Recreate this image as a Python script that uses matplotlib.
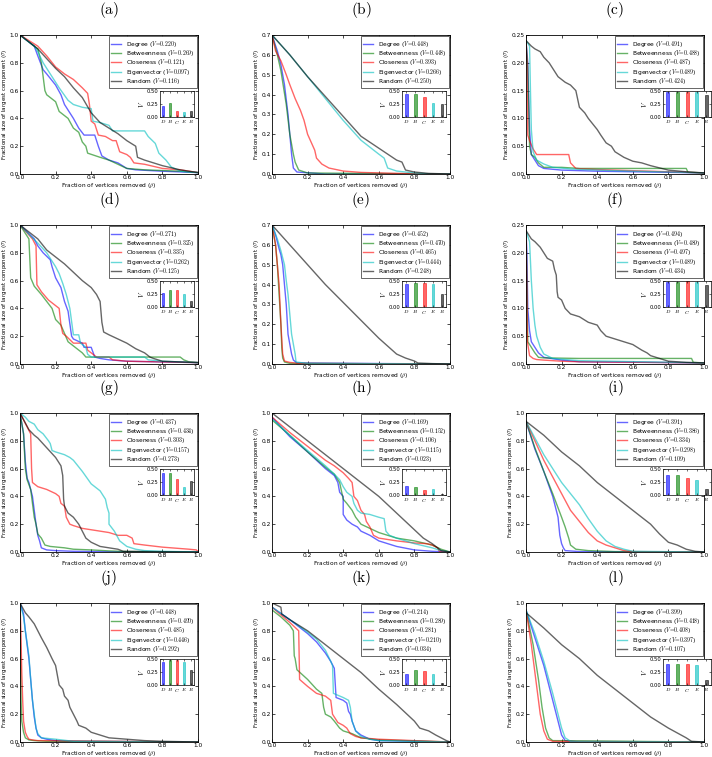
import matplotlib
matplotlib.use('Agg')
import matplotlib.pyplot as plt

plt.rcParams['mathtext.fontset'] = 'cm'

names = ['Degree', 'Betweenness', 'Closeness', 'Eigenvector', 'Random']
short = ['D', 'B', 'C', 'E', 'R']
colors = ['b', 'g', 'r', 'c', 'k']

# (a)
a_deg = [(0, 1), (0.08, 0.92), (0.1, 0.85), (0.13, 0.75), (0.15, 0.72), (0.2, 0.64), (0.23, 0.57), (0.25, 0.5), (0.3, 0.4), (0.33, 0.33), (0.36, 0.28), (0.42, 0.28), (0.43, 0.24), (0.44, 0.2), (0.46, 0.13), (0.5, 0.1), (0.55, 0.08), (0.6, 0.04), (0.65, 0.03), (0.8, 0.02), (1, 0.01)]
a_btw = [(0, 1), (0.1, 0.9), (0.12, 0.8), (0.13, 0.7), (0.14, 0.6), (0.15, 0.57), (0.2, 0.52), (0.22, 0.45), (0.27, 0.4), (0.3, 0.33), (0.33, 0.3), (0.35, 0.23), (0.37, 0.2), (0.38, 0.15), (0.45, 0.12), (0.5, 0.1), (0.55, 0.07), (0.6, 0.04), (0.7, 0.03), (0.8, 0.025), (0.9, 0.02), (1, 0.01)]
a_clo = [(0, 1), (0.1, 0.92), (0.15, 0.85), (0.2, 0.77), (0.25, 0.72), (0.3, 0.68), (0.35, 0.62), (0.38, 0.58), (0.39, 0.5), (0.4, 0.38), (0.42, 0.36), (0.44, 0.28), (0.48, 0.27), (0.52, 0.24), (0.54, 0.24), (0.56, 0.16), (0.6, 0.14), (0.62, 0.12), (0.64, 0.08), (0.7, 0.07), (0.8, 0.04), (0.9, 0.03), (1, 0.01)]
a_eig = [(0, 1), (0.08, 0.92), (0.1, 0.88), (0.13, 0.8), (0.18, 0.7), (0.22, 0.62), (0.27, 0.53), (0.3, 0.5), (0.35, 0.48), (0.4, 0.47), (0.41, 0.38), (0.45, 0.37), (0.5, 0.35), (0.52, 0.31), (0.7, 0.31), (0.72, 0.27), (0.76, 0.22), (0.78, 0.15), (0.82, 0.1), (0.85, 0.05), (0.9, 0.02), (1, 0.01)]
a_rnd = [(0, 1), (0.1, 0.9), (0.15, 0.83), (0.2, 0.76), (0.25, 0.7), (0.3, 0.62), (0.35, 0.55), (0.4, 0.44), (0.45, 0.37), (0.5, 0.33), (0.55, 0.29), (0.6, 0.24), (0.65, 0.2), (0.66, 0.12), (0.7, 0.1), (0.8, 0.06), (0.9, 0.03), (1, 0.01)]
v_a = [0.220, 0.269, 0.121, 0.097, 0.116]

# (b)
b_deg = [(0, 0.7), (0.03, 0.62), (0.05, 0.55), (0.07, 0.45), (0.09, 0.3), (0.1, 0.2), (0.11, 0.1), (0.12, 0.03), (0.14, 0.01), (0.3, 0.0), (1, 0)]
b_btw = [(0, 0.7), (0.03, 0.6), (0.05, 0.52), (0.08, 0.35), (0.1, 0.2), (0.12, 0.1), (0.13, 0.06), (0.15, 0.02), (0.2, 0.005), (1, 0)]
b_clo = [(0, 0.7), (0.02, 0.62), (0.05, 0.57), (0.08, 0.5), (0.1, 0.45), (0.13, 0.38), (0.16, 0.32), (0.18, 0.27), (0.2, 0.2), (0.24, 0.12), (0.25, 0.08), (0.28, 0.05), (0.32, 0.03), (0.4, 0.015), (0.5, 0.008), (0.7, 0.003), (1, 0)]
b_eig = [(0, 0.7), (0.1, 0.6), (0.2, 0.49), (0.3, 0.38), (0.4, 0.27), (0.5, 0.17), (0.6, 0.1), (0.63, 0.08), (0.65, 0.03), (0.7, 0.015), (0.8, 0.005), (0.9, 0), (1, 0)]
b_rnd = [(0, 0.7), (0.1, 0.6), (0.2, 0.49), (0.3, 0.39), (0.4, 0.29), (0.5, 0.19), (0.6, 0.13), (0.7, 0.07), (0.73, 0.06), (0.75, 0.02), (0.8, 0.01), (0.88, 0.003), (1, 0)]
v_b = [0.448, 0.448, 0.393, 0.266, 0.250]

# (c)
c_deg = [(0, 0.24), (0.01, 0.2), (0.02, 0.08), (0.03, 0.035), (0.05, 0.025), (0.07, 0.015), (0.1, 0.01), (0.2, 0.007), (0.4, 0.005), (0.6, 0.004), (1, 0.002)]
c_btw = [(0, 0.24), (0.01, 0.19), (0.02, 0.05), (0.03, 0.035), (0.05, 0.03), (0.07, 0.02), (0.1, 0.012), (0.2, 0.012), (0.3, 0.01), (0.5, 0.01), (0.9, 0.01), (0.91, 0.003), (1, 0.002)]
c_clo = [(0, 0.24), (0.005, 0.2), (0.01, 0.07), (0.02, 0.06), (0.04, 0.045), (0.05, 0.04), (0.06, 0.035), (0.24, 0.035), (0.25, 0.02), (0.28, 0.01), (0.4, 0.008), (0.6, 0.006), (0.8, 0.004), (1, 0.002)]
c_eig = [(0, 0.24), (0.02, 0.23), (0.025, 0.15), (0.03, 0.08), (0.04, 0.04), (0.06, 0.025), (0.1, 0.018), (0.15, 0.012), (0.25, 0.009), (0.5, 0.006), (1, 0.002)]
c_rnd = [(0, 0.24), (0.03, 0.23), (0.05, 0.225), (0.08, 0.22), (0.1, 0.21), (0.13, 0.2), (0.15, 0.19), (0.18, 0.175), (0.2, 0.17), (0.22, 0.165), (0.25, 0.16), (0.28, 0.15), (0.29, 0.135), (0.3, 0.12), (0.33, 0.11), (0.35, 0.1), (0.4, 0.08), (0.42, 0.07), (0.45, 0.056), (0.48, 0.05), (0.5, 0.04), (0.55, 0.03), (0.6, 0.023), (0.65, 0.02), (0.7, 0.015), (0.8, 0.007), (0.9, 0.004), (1, 0.002)]
v_c = [0.491, 0.488, 0.487, 0.489, 0.424]

# (d)
d_deg = [(0, 1), (0.08, 0.9), (0.1, 0.85), (0.13, 0.8), (0.17, 0.75), (0.18, 0.7), (0.2, 0.62), (0.23, 0.55), (0.25, 0.45), (0.27, 0.38), (0.29, 0.2), (0.3, 0.18), (0.35, 0.15), (0.36, 0.12), (0.4, 0.12), (0.42, 0.05), (0.45, 0.04), (0.5, 0.03), (0.6, 0.02), (0.8, 0.015), (1, 0.01)]
d_btw = [(0, 1), (0.05, 0.9), (0.06, 0.62), (0.08, 0.56), (0.12, 0.5), (0.15, 0.45), (0.18, 0.4), (0.2, 0.32), (0.23, 0.28), (0.25, 0.22), (0.27, 0.16), (0.3, 0.13), (0.35, 0.08), (0.37, 0.05), (0.6, 0.05), (0.9, 0.05), (0.92, 0.03), (0.95, 0.015), (1, 0.01)]
d_clo = [(0, 1), (0.07, 0.9), (0.09, 0.85), (0.095, 0.57), (0.12, 0.52), (0.16, 0.46), (0.2, 0.42), (0.22, 0.4), (0.23, 0.28), (0.24, 0.22), (0.26, 0.2), (0.3, 0.15), (0.37, 0.15), (0.38, 0.1), (0.4, 0.08), (0.43, 0.05), (0.5, 0.05), (0.52, 0.03), (0.6, 0.02), (0.8, 0.015), (1, 0.01)]
d_eig = [(0, 1), (0.06, 0.92), (0.1, 0.87), (0.15, 0.8), (0.2, 0.7), (0.22, 0.65), (0.24, 0.58), (0.26, 0.5), (0.28, 0.4), (0.3, 0.21), (0.33, 0.21), (0.34, 0.15), (0.37, 0.12), (0.38, 0.07), (0.4, 0.05), (0.45, 0.05), (0.7, 0.05), (0.72, 0.03), (0.8, 0.02), (1, 0.01)]
d_rnd = [(0, 1), (0.1, 0.9), (0.15, 0.82), (0.2, 0.77), (0.25, 0.72), (0.3, 0.66), (0.35, 0.6), (0.4, 0.55), (0.43, 0.5), (0.45, 0.45), (0.46, 0.3), (0.47, 0.23), (0.5, 0.21), (0.55, 0.18), (0.6, 0.15), (0.65, 0.11), (0.7, 0.08), (0.73, 0.05), (0.75, 0.04), (0.8, 0.02), (1, 0.01)]
v_d = [0.271, 0.325, 0.335, 0.262, 0.125]

# (e)
e_deg = [(0, 0.7), (0.02, 0.65), (0.04, 0.58), (0.05, 0.55), (0.06, 0.5), (0.07, 0.4), (0.08, 0.3), (0.09, 0.15), (0.1, 0.1), (0.11, 0.05), (0.12, 0.02), (0.14, 0.005), (1, 0)]
e_btw = [(0, 0.7), (0.02, 0.6), (0.03, 0.5), (0.04, 0.35), (0.05, 0.2), (0.055, 0.08), (0.06, 0.03), (0.07, 0.01), (0.1, 0.003), (1, 0)]
e_clo = [(0, 0.7), (0.02, 0.6), (0.03, 0.5), (0.04, 0.4), (0.05, 0.2), (0.06, 0.05), (0.07, 0.015), (0.1, 0.008), (0.15, 0.003), (1, 0)]
e_eig = [(0, 0.7), (0.03, 0.63), (0.05, 0.57), (0.07, 0.5), (0.08, 0.42), (0.09, 0.35), (0.1, 0.25), (0.11, 0.15), (0.12, 0.1), (0.13, 0.05), (0.135, 0.01), (0.2, 0.003), (1, 0)]
e_rnd = [(0, 0.7), (0.1, 0.6), (0.2, 0.5), (0.3, 0.4), (0.4, 0.31), (0.5, 0.22), (0.6, 0.13), (0.7, 0.05), (0.75, 0.03), (0.8, 0.015), (0.82, 0.005), (0.9, 0.002), (1, 0)]
v_e = [0.452, 0.470, 0.465, 0.444, 0.248]

# (f)
f_deg = [(0, 0.24), (0.005, 0.2), (0.01, 0.1), (0.02, 0.06), (0.03, 0.04), (0.05, 0.03), (0.07, 0.02), (0.1, 0.012), (0.2, 0.007), (0.3, 0.004), (1, 0.002)]
f_btw = [(0, 0.24), (0.005, 0.15), (0.01, 0.04), (0.03, 0.03), (0.05, 0.02), (0.07, 0.012), (0.1, 0.011), (0.3, 0.01), (0.6, 0.01), (0.93, 0.01), (0.94, 0.003), (1, 0.002)]
f_clo = [(0, 0.24), (0.004, 0.15), (0.008, 0.04), (0.02, 0.015), (0.04, 0.01), (0.06, 0.008), (0.1, 0.007), (0.2, 0.005), (0.3, 0.004), (1, 0.002)]
f_eig = [(0, 0.24), (0.02, 0.22), (0.03, 0.15), (0.04, 0.1), (0.05, 0.07), (0.06, 0.05), (0.08, 0.03), (0.1, 0.018), (0.15, 0.01), (0.3, 0.006), (1, 0.002)]
f_rnd = [(0, 0.24), (0.03, 0.225), (0.05, 0.22), (0.08, 0.21), (0.1, 0.2), (0.12, 0.19), (0.15, 0.185), (0.16, 0.17), (0.17, 0.16), (0.175, 0.13), (0.18, 0.12), (0.2, 0.115), (0.22, 0.1), (0.25, 0.09), (0.3, 0.085), (0.35, 0.075), (0.4, 0.07), (0.42, 0.06), (0.45, 0.05), (0.5, 0.045), (0.55, 0.04), (0.6, 0.035), (0.65, 0.025), (0.68, 0.02), (0.7, 0.015), (0.8, 0.005), (0.9, 0.003), (1, 0.002)]
v_f = [0.494, 0.489, 0.497, 0.489, 0.434]

# (g)
g_deg = [(0, 1), (0.02, 0.85), (0.03, 0.65), (0.04, 0.53), (0.05, 0.5), (0.06, 0.45), (0.07, 0.4), (0.08, 0.3), (0.09, 0.2), (0.1, 0.12), (0.11, 0.08), (0.12, 0.03), (0.15, 0.015), (0.2, 0.01), (0.3, 0.005), (0.5, 0.002), (1, 0)]
g_btw = [(0, 1), (0.02, 0.85), (0.03, 0.6), (0.04, 0.52), (0.06, 0.45), (0.08, 0.25), (0.09, 0.2), (0.1, 0.13), (0.12, 0.1), (0.14, 0.05), (0.17, 0.04), (0.25, 0.03), (0.3, 0.02), (0.4, 0.015), (0.5, 0.008), (0.6, 0.003), (1, 0)]
g_clo = [(0, 1), (0.04, 0.9), (0.06, 0.85), (0.065, 0.6), (0.07, 0.5), (0.1, 0.47), (0.15, 0.45), (0.2, 0.42), (0.22, 0.4), (0.23, 0.35), (0.25, 0.33), (0.26, 0.25), (0.28, 0.2), (0.3, 0.19), (0.35, 0.17), (0.4, 0.16), (0.45, 0.15), (0.5, 0.14), (0.55, 0.12), (0.6, 0.12), (0.63, 0.1), (0.64, 0.06), (0.7, 0.05), (0.8, 0.035), (0.9, 0.025), (0.95, 0.02), (0.99, 0.015), (1, 0.005)]
g_eig = [(0, 1), (0.03, 0.97), (0.05, 0.94), (0.08, 0.92), (0.1, 0.88), (0.13, 0.85), (0.16, 0.8), (0.17, 0.78), (0.18, 0.73), (0.2, 0.72), (0.25, 0.7), (0.28, 0.68), (0.3, 0.66), (0.35, 0.58), (0.4, 0.49), (0.45, 0.44), (0.48, 0.38), (0.49, 0.32), (0.5, 0.28), (0.5, 0.2), (0.53, 0.15), (0.56, 0.08), (0.6, 0.04), (0.65, 0.02), (0.7, 0.01), (0.8, 0.005), (1, 0)]
g_rnd = [(0, 1), (0.05, 0.88), (0.08, 0.84), (0.1, 0.82), (0.15, 0.75), (0.2, 0.68), (0.23, 0.62), (0.24, 0.55), (0.245, 0.38), (0.25, 0.33), (0.27, 0.28), (0.3, 0.25), (0.33, 0.2), (0.35, 0.15), (0.37, 0.1), (0.4, 0.07), (0.45, 0.04), (0.5, 0.03), (0.55, 0.02), (0.58, 0.005), (1, 0)]
v_g = [0.437, 0.434, 0.303, 0.157, 0.273]

# (h)
h_deg = [(0, 0.97), (0.1, 0.83), (0.2, 0.72), (0.3, 0.6), (0.35, 0.55), (0.37, 0.5), (0.38, 0.43), (0.4, 0.4), (0.4, 0.27), (0.42, 0.23), (0.45, 0.2), (0.48, 0.18), (0.5, 0.15), (0.55, 0.12), (0.6, 0.08), (0.7, 0.04), (0.8, 0.015), (0.9, 0.005), (1, 0)]
h_btw = [(0, 0.95), (0.1, 0.84), (0.2, 0.72), (0.3, 0.61), (0.35, 0.56), (0.38, 0.5), (0.4, 0.38), (0.42, 0.35), (0.45, 0.3), (0.47, 0.25), (0.5, 0.2), (0.55, 0.17), (0.6, 0.14), (0.65, 0.12), (0.7, 0.1), (0.8, 0.08), (0.9, 0.05), (0.95, 0.02), (1, 0)]
h_clo = [(0, 0.97), (0.1, 0.86), (0.2, 0.76), (0.3, 0.66), (0.35, 0.62), (0.4, 0.57), (0.43, 0.53), (0.45, 0.5), (0.46, 0.4), (0.48, 0.37), (0.5, 0.3), (0.52, 0.27), (0.53, 0.22), (0.55, 0.18), (0.57, 0.12), (0.6, 0.1), (0.7, 0.08), (0.8, 0.065), (0.87, 0.06), (0.9, 0.05), (0.93, 0.03), (0.94, 0.005), (1, 0)]
h_eig = [(0, 0.96), (0.1, 0.84), (0.2, 0.73), (0.3, 0.62), (0.35, 0.56), (0.38, 0.52), (0.4, 0.47), (0.42, 0.43), (0.45, 0.4), (0.46, 0.35), (0.48, 0.3), (0.5, 0.28), (0.55, 0.27), (0.6, 0.25), (0.63, 0.24), (0.64, 0.15), (0.66, 0.12), (0.7, 0.1), (0.8, 0.06), (0.9, 0.03), (0.95, 0.01), (1, 0)]
h_rnd = [(0, 1), (0.1, 0.9), (0.2, 0.8), (0.3, 0.7), (0.4, 0.6), (0.45, 0.55), (0.5, 0.5), (0.55, 0.45), (0.6, 0.4), (0.65, 0.34), (0.7, 0.28), (0.75, 0.22), (0.8, 0.16), (0.85, 0.1), (0.9, 0.06), (0.93, 0.03), (0.95, 0.01), (1, 0)]
v_h = [0.169, 0.152, 0.106, 0.115, 0.023]

# (i)
i_deg = [(0, 0.94), (0.05, 0.74), (0.1, 0.58), (0.15, 0.4), (0.18, 0.25), (0.19, 0.12), (0.2, 0.06), (0.21, 0.03), (0.22, 0.01), (0.3, 0.003), (1, 0)]
i_btw = [(0, 0.94), (0.05, 0.75), (0.1, 0.58), (0.15, 0.42), (0.2, 0.25), (0.22, 0.18), (0.24, 0.1), (0.25, 0.05), (0.28, 0.02), (0.35, 0.01), (0.5, 0.003), (1, 0)]
i_clo = [(0, 0.94), (0.05, 0.8), (0.1, 0.66), (0.15, 0.54), (0.2, 0.42), (0.25, 0.3), (0.3, 0.22), (0.35, 0.14), (0.4, 0.08), (0.45, 0.05), (0.5, 0.03), (0.55, 0.01), (0.6, 0.003), (1, 0)]
i_eig = [(0, 0.94), (0.05, 0.82), (0.1, 0.7), (0.15, 0.6), (0.2, 0.5), (0.25, 0.42), (0.3, 0.34), (0.35, 0.24), (0.4, 0.15), (0.45, 0.08), (0.5, 0.04), (0.55, 0.02), (0.6, 0.005), (1, 0)]
i_rnd = [(0, 0.94), (0.1, 0.84), (0.2, 0.72), (0.3, 0.62), (0.4, 0.5), (0.5, 0.4), (0.6, 0.3), (0.7, 0.2), (0.75, 0.13), (0.8, 0.07), (0.85, 0.05), (0.9, 0.02), (0.95, 0.005), (1, 0)]
v_i = [0.391, 0.386, 0.334, 0.298, 0.109]

# (j)
j_deg = [(0, 1), (0.02, 0.92), (0.03, 0.8), (0.05, 0.6), (0.06, 0.45), (0.07, 0.3), (0.08, 0.18), (0.09, 0.1), (0.1, 0.05), (0.12, 0.03), (0.15, 0.02), (0.2, 0.01), (0.3, 0.005), (1, 0)]
j_btw = [(0, 1), (0.003, 0.6), (0.006, 0.3), (0.01, 0.15), (0.02, 0.07), (0.03, 0.03), (0.05, 0.015), (0.08, 0.01), (0.15, 0.005), (1, 0)]
j_clo = [(0, 1), (0.005, 0.8), (0.01, 0.5), (0.015, 0.3), (0.02, 0.15), (0.03, 0.07), (0.04, 0.04), (0.05, 0.02), (0.07, 0.015), (0.1, 0.01), (1, 0)]
j_eig = [(0, 1), (0.02, 0.9), (0.03, 0.8), (0.05, 0.62), (0.06, 0.45), (0.07, 0.3), (0.08, 0.2), (0.09, 0.1), (0.1, 0.06), (0.12, 0.03), (0.2, 0.02), (0.3, 0.005), (1, 0)]
j_rnd = [(0, 1), (0.03, 0.93), (0.05, 0.9), (0.08, 0.85), (0.1, 0.8), (0.12, 0.75), (0.15, 0.68), (0.18, 0.6), (0.2, 0.55), (0.21, 0.48), (0.22, 0.41), (0.24, 0.38), (0.25, 0.33), (0.27, 0.3), (0.28, 0.25), (0.3, 0.2), (0.32, 0.15), (0.33, 0.12), (0.37, 0.1), (0.4, 0.07), (0.45, 0.05), (0.5, 0.03), (0.6, 0.02), (0.7, 0.01), (0.8, 0.005), (1, 0)]
v_j = [0.448, 0.490, 0.485, 0.446, 0.292]

# (k)
k_deg = [(0, 0.97), (0.1, 0.88), (0.2, 0.78), (0.25, 0.72), (0.3, 0.64), (0.33, 0.58), (0.35, 0.53), (0.36, 0.32), (0.4, 0.3), (0.42, 0.28), (0.43, 0.22), (0.44, 0.2), (0.45, 0.15), (0.47, 0.08), (0.5, 0.05), (0.55, 0.02), (0.6, 0.01), (0.8, 0.005), (1, 0)]
k_btw = [(0, 0.95), (0.05, 0.9), (0.1, 0.84), (0.12, 0.8), (0.125, 0.62), (0.13, 0.6), (0.14, 0.52), (0.2, 0.45), (0.25, 0.38), (0.28, 0.35), (0.29, 0.25), (0.3, 0.2), (0.33, 0.18), (0.35, 0.15), (0.38, 0.1), (0.4, 0.08), (0.45, 0.06), (0.5, 0.03), (0.6, 0.015), (0.8, 0.008), (1, 0)]
k_clo = [(0, 0.97), (0.1, 0.86), (0.15, 0.8), (0.155, 0.45), (0.2, 0.4), (0.25, 0.35), (0.3, 0.33), (0.33, 0.3), (0.34, 0.2), (0.37, 0.14), (0.4, 0.12), (0.42, 0.1), (0.44, 0.06), (0.47, 0.04), (0.5, 0.03), (0.6, 0.02), (0.8, 0.01), (1, 0)]
k_eig = [(0, 0.97), (0.1, 0.88), (0.2, 0.79), (0.25, 0.74), (0.3, 0.66), (0.33, 0.58), (0.34, 0.55), (0.345, 0.35), (0.4, 0.32), (0.43, 0.3), (0.44, 0.25), (0.45, 0.15), (0.47, 0.08), (0.5, 0.04), (0.55, 0.02), (0.6, 0.01), (1, 0)]
k_rnd = [(0, 1), (0.05, 0.97), (0.055, 0.92), (0.1, 0.88), (0.2, 0.8), (0.3, 0.7), (0.4, 0.6), (0.5, 0.5), (0.6, 0.38), (0.7, 0.27), (0.8, 0.15), (0.83, 0.1), (0.88, 0.08), (0.92, 0.05), (0.95, 0.03), (0.98, 0.01), (1, 0)]
v_k = [0.214, 0.289, 0.281, 0.210, 0.034]

# (l)
l_deg = [(0, 0.95), (0.05, 0.75), (0.1, 0.55), (0.15, 0.3), (0.18, 0.15), (0.2, 0.05), (0.22, 0.01), (0.3, 0), (1, 0)]
l_btw = [(0, 0.95), (0.04, 0.7), (0.07, 0.45), (0.09, 0.25), (0.11, 0.1), (0.13, 0.03), (0.15, 0.01), (1, 0)]
l_clo = [(0, 0.95), (0.03, 0.7), (0.06, 0.4), (0.08, 0.2), (0.1, 0.08), (0.12, 0.02), (0.15, 0.005), (1, 0)]
l_eig = [(0, 0.95), (0.05, 0.78), (0.1, 0.58), (0.15, 0.35), (0.18, 0.2), (0.2, 0.1), (0.22, 0.03), (0.25, 0.005), (1, 0)]
l_rnd = [(0, 0.93), (0.1, 0.82), (0.2, 0.7), (0.3, 0.6), (0.4, 0.48), (0.5, 0.38), (0.6, 0.28), (0.7, 0.18), (0.8, 0.1), (0.9, 0.03), (0.93, 0.005), (1, 0)]
v_l = [0.399, 0.418, 0.408, 0.397, 0.107]

panel_labels = ['a', 'b', 'c', 'd', 'e', 'f', 'g', 'h', 'i', 'j', 'k', 'l']
panel_ymax = [1.0, 0.7, 0.25, 1.0, 0.7, 0.25, 1.0, 1.0, 1.0, 1.0, 1.0, 1.0]
panel_curves = [
    [a_deg, a_btw, a_clo, a_eig, a_rnd], [b_deg, b_btw, b_clo, b_eig, b_rnd],
    [c_deg, c_btw, c_clo, c_eig, c_rnd], [d_deg, d_btw, d_clo, d_eig, d_rnd],
    [e_deg, e_btw, e_clo, e_eig, e_rnd], [f_deg, f_btw, f_clo, f_eig, f_rnd],
    [g_deg, g_btw, g_clo, g_eig, g_rnd], [h_deg, h_btw, h_clo, h_eig, h_rnd],
    [i_deg, i_btw, i_clo, i_eig, i_rnd], [j_deg, j_btw, j_clo, j_eig, j_rnd],
    [k_deg, k_btw, k_clo, k_eig, k_rnd], [l_deg, l_btw, l_clo, l_eig, l_rnd],
]
panel_v = [v_a, v_b, v_c, v_d, v_e, v_f, v_g, v_h, v_i, v_j, v_k, v_l]

FW, FH = 712, 757
col_left = [20, 272, 526]
row_top = [35, 225, 413, 603]
AW, AH = 178, 139
inset_rects = [[0.785, 0.41, 0.195, 0.185],
               [0.73, 0.41, 0.25, 0.185],
               [0.77, 0.41, 0.27, 0.185]]

fig = plt.figure(figsize=(FW / 100, FH / 100), dpi=100)

for n in range(12):
    r, c = divmod(n, 3)
    ax = fig.add_axes([col_left[c] / FW, 1 - (row_top[r] + AH) / FH, AW / FW, AH / FH])
    for k in range(5):
        xs, ys = zip(*panel_curves[n][k])
        lab = names[k] + r' ($V\!=\!%.3f$)' % panel_v[n][k]
        ax.plot(xs, ys, color=colors[k], alpha=0.6, lw=1.0, label=lab)
    ymax = panel_ymax[n]
    ax.set_xlim(0, 1)
    ax.set_ylim(0, ymax)
    if ymax == 0.25:
        ax.set_yticks([0, 0.05, 0.1, 0.15, 0.2, 0.25])
    elif ymax == 0.7:
        ax.set_yticks([0, 0.1, 0.2, 0.3, 0.4, 0.5, 0.6, 0.7])
    else:
        ax.set_yticks([0, 0.2, 0.4, 0.6, 0.8, 1.0])
    ax.set_xticks([0, 0.2, 0.4, 0.6, 0.8, 1.0])
    ax.tick_params(direction='in', top=True, right=True, length=2.5, width=0.5,
                   labelsize=4.2, pad=1.0)
    for sp in ax.spines.values():
        sp.set_linewidth(0.6)
    ax.set_xlabel(r'Fraction of vertices removed ($\rho$)', fontsize=4.2, labelpad=1)
    ax.set_ylabel(r'Fractional size of largest component ($\sigma$)', fontsize=4.0, labelpad=0.3)
    leg = ax.legend(loc='upper right', fontsize=4.2, handlelength=1.7, labelspacing=-0.12,
                    borderpad=0.4, handletextpad=0.8, borderaxespad=0.25,
                    fancybox=False, framealpha=1, edgecolor='0.3')
    leg.get_frame().set_linewidth(0.6)

    ins = ax.inset_axes(inset_rects[c])
    ins.set_zorder(6)
    ins.bar(range(5), panel_v[n], width=0.3, color=colors, alpha=0.6, edgecolor=colors, lw=0.6)
    ins.set_xlim(-0.5, 4.5)
    ins.set_ylim(0, 0.5)
    ins.set_yticks([0, 0.25, 0.5])
    ins.set_yticklabels(['0.00', '0.25', '0.50'])
    ins.set_xticks(range(5))
    ins.set_xticklabels(['$%s$' % s for s in short])
    ins.tick_params(direction='in', top=True, right=True, length=1.5, width=0.4,
                    labelsize=3.8, pad=1)
    for sp in ins.spines.values():
        sp.set_linewidth(0.5)
    ins.set_ylabel('$V$', fontsize=5, labelpad=0.5)

    cx = (col_left[c] + AW / 2) / FW
    fig.text(cx, 1 - (row_top[r] - 25) / FH, r'$\mathrm{(%s)}$' % panel_labels[n],
             fontsize=11, ha='center', va='center')

fig.savefig('out.png', dpi=100, facecolor='white')
